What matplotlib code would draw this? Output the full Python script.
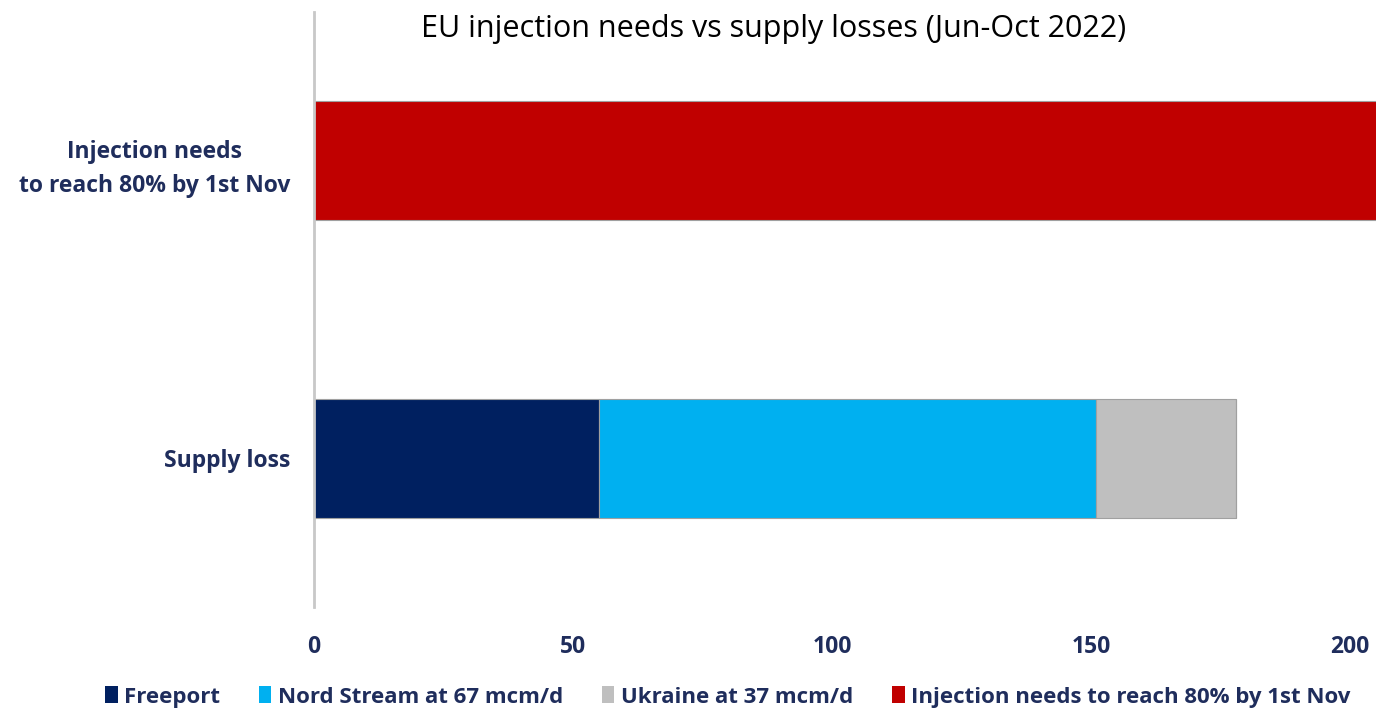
import matplotlib
matplotlib.use("Agg")
import matplotlib.pyplot as plt
import numpy as np

categories = ["Supply loss", "Injection needs\nto reach 80% by 1st Nov"]
series_names = ["Freeport", "Nord Stream at 67 mcm/d", "Ukraine at 37 mcm/d",
                "Injection needs to reach 80% by 1st Nov"]
freeport = [55, 0]
nord_stream = [96, 0]
ukraine = [27, 0]
injection = [0, 210]
xticks = [0, 50, 100, 150, 200]
colors = ["#002060", "#00B0F0", "#BFBFBF", "#C00000"]

plt.rcParams['font.family'] = ['Open Sans', 'DejaVu Sans']
navy = "#1F2D5C"

fig = plt.figure(figsize=(13.76, 7.10), dpi=100)
ax = fig.add_axes([314/1376, 103/710, 1 - 314/1376, 595/710])

y = np.arange(len(categories))
left = np.zeros(len(categories))
for vals, name, c in zip([freeport, nord_stream, ukraine, injection], series_names, colors):
    v = np.array(vals, dtype=float)
    ax.barh(y, v, left=left, height=0.4, color=c, edgecolor="#A0A0A0",
            linewidth=0.8, label=name)
    left += v

ax.set_xlim(0, 205)
ax.set_ylim(-0.5, 1.5)
ax.set_xticks(xticks)
ax.set_xticklabels([str(t) for t in xticks])
ax.set_yticks(y)
ax.set_yticklabels(categories)
ax.tick_params(axis='both', length=0)
ax.tick_params(axis='x', pad=20)
ax.tick_params(axis='y', pad=17)
for lab in ax.get_xticklabels():
    lab.set_fontweight('bold')
    lab.set_fontsize(16.5)
    lab.set_color(navy)
for lab in ax.get_yticklabels():
    lab.set_fontweight('bold')
    lab.set_fontsize(16.5)
    lab.set_color(navy)
    lab.set_multialignment('center')
    lab.set_linespacing(1.55)

for s in ['top', 'right', 'bottom']:
    ax.spines[s].set_visible(False)
ax.spines['left'].set_color('#C8C8C8')
ax.spines['left'].set_linewidth(2)

fig.text(774/1376, 1 - 29/710, "EU injection needs vs supply losses (Jun-Oct 2022)",
         ha='center', va='center', fontsize=22, color='black')

handles, labels = ax.get_legend_handles_labels()
leg = fig.legend(handles, labels, loc='center', bbox_to_anchor=(728/1376, 1 - 697/710),
                 ncol=4, frameon=False, handlelength=0.55, handleheight=0.8,
                 handletextpad=0.3, columnspacing=1.75,
                 prop={'weight': 'bold', 'size': 16})
for t in leg.get_texts():
    t.set_color(navy)
for h in leg.legend_handles:
    h.set_edgecolor('none')

fig.savefig("out.png", dpi=100)
